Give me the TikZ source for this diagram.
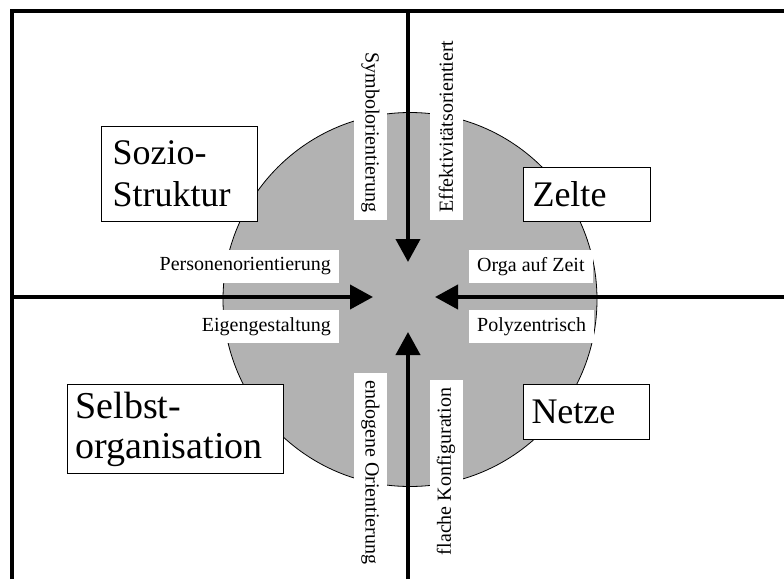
\documentclass[tikz,border=0pt]{standalone}
\usepackage{fontspec}
\setmainfont{Liberation Serif}
\usetikzlibrary{arrows.meta}
\definecolor{discgray}{RGB}{178,178,178}
\tikzset{
  frameline/.style={line width=4pt},
  pusharrow/.style={line width=4pt,-{Triangle[length=23pt,width=24pt]}},
  smalllabel/.style={fill=white,font=\fontsize{20}{24}\selectfont,inner xsep=8pt,minimum height=33pt},
  vlabel/.style={smalllabel},
  bigbox/.style={draw=black,line width=1pt,fill=white,align=left,
    font=\fontsize{36}{42}\selectfont,inner ysep=0pt},
}
\begin{document}
\begin{tikzpicture}[x=1pt,y=-1pt]
\useasboundingbox (0,0) rectangle (784,579);

% central disc
\node[circle,draw=black,line width=0.8pt,fill=discgray,minimum size=374pt,inner sep=0pt] (disc) at (410,299.5) {};

% frame corners and arrow ends
\coordinate (tl) at (12,11);
\coordinate (tr) at (784,11);
\coordinate (bl) at (12,579);
\coordinate (ntop) at (408,11);
\coordinate (ntip) at (408,262);
\coordinate (sbot) at (408,579);
\coordinate (stip) at (408,332);
\coordinate (wend) at (12,297);
\coordinate (wtip) at (373,297);
\coordinate (eend) at (784,297);
\coordinate (etip) at (435,297);

\draw[frameline] (bl) -- (tl) -- (tr);
\draw[pusharrow] (ntop) -- (ntip);
\draw[pusharrow] (sbot) -- (stip);
\draw[pusharrow] (wend) -- (wtip);
\draw[pusharrow] (eend) -- (etip);

% arrow labels
\node[smalllabel,anchor=east] (pers) at (339,266.5) {Personenorientierung};
\node[smalllabel,anchor=east] (eigen) at (339,326.5) {Eigengestaltung};
\node[smalllabel,anchor=west] (orga) at (469,266.5) {Orga auf Zeit};
\node[smalllabel,anchor=west] (poly) at (469,326.5) {Polyzentrisch};
\node[vlabel,rotate=-90] (symb) at (370.5,132.5) {Symbolorientierung};
\node[vlabel,rotate=90] (effekt) at (446,126.5) {Effektivitätsorientiert};
\node[vlabel,rotate=-90] (endo) at (370.5,472.5) {endogene Orientierung};
\node[vlabel,rotate=90] (flach) at (446,471.5) {flache Konfiguration};

% quadrant boxes
\node[bigbox,anchor=north west,text width=134pt,inner xsep=11pt,minimum height=95pt] (sozio) at (101,126) {Sozio-\\Struktur};
\node[bigbox,anchor=north west,text width=200pt,inner xsep=8pt,minimum height=89pt,
  font=\fontsize{38}{40}\selectfont] (selbst) at (67,384) {Selbst-\\organisation};
\node[bigbox,anchor=north west,text width=109pt,inner xsep=9pt,minimum height=54pt] (zelte) at (523,167) {Zelte};
\node[bigbox,anchor=north west,text width=110pt,inner xsep=8pt,minimum height=55pt] (netze) at (523,384) {Netze};
\end{tikzpicture}
\end{document}
